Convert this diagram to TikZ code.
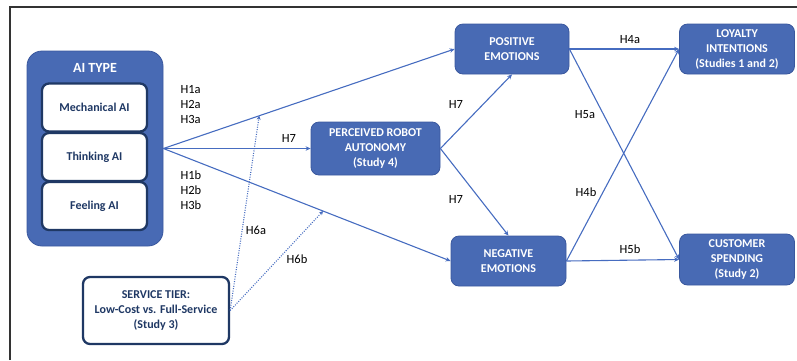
\documentclass[tikz,border=0pt]{standalone}
\usepackage{fontspec}
\setmainfont{Carlito}
\usepackage{xcolor}
\definecolor{azulCaja}{RGB}{72,106,180}
\definecolor{azulBorde}{RGB}{58,88,158}
\definecolor{azulMarino}{RGB}{31,56,100}
\definecolor{azulFlecha}{RGB}{70,108,192}
\usepackage{tikz}
\usetikzlibrary{arrows.meta, positioning}

\begin{document}
\begin{tikzpicture}[x=1pt,y=-1pt,
  caja/.style={draw=azulBorde, fill=azulCaja, rounded corners=8pt, line width=0.8pt,
    text=white, align=center, inner sep=0pt, font=\fontsize{12}{15}\selectfont\bfseries},
  cajaBlanca/.style={draw=azulMarino, fill=white, rounded corners=7pt, line width=2.3pt,
    text=azulMarino, align=center, inner sep=0pt, font=\fontsize{12}{15}\selectfont\bfseries},
  flecha/.style={draw=azulFlecha, line width=1.1pt, -{Stealth[length=5pt,width=4.5pt]}},
  punteada/.style={draw=azulFlecha, line width=1.1pt, dash pattern=on 1pt off 1.4pt,
    -{Stealth[length=4pt,width=4pt]}},
  etiqueta/.style={font=\fontsize{12.5}{15}\selectfont, align=left}]
  \useasboundingbox (0,0) rectangle (797,360);
  % Marco
  \draw[line width=1.2pt, black!80] (10,360) -- (10,7) -- (797,7);
  % Tipo de IA
  \node[caja, rounded corners=15pt, minimum width=136pt, minimum height=195pt] (tipoIA) at (95,148.5) {};
  \node[text=white, font=\fontsize{14}{15}\selectfont\bfseries] (tituloIA) at (95,68) {AI TYPE};
  \node[cajaBlanca, minimum width=105pt, minimum height=48pt] (mecanica) at (94.5,107.5) {Mechanical AI};
  \node[cajaBlanca, minimum width=105pt, minimum height=48pt] (pensante) at (94.5,157) {Thinking AI};
  \node[cajaBlanca, minimum width=105pt, minimum height=48pt] (sensible) at (94.5,206) {Feeling AI};
  % Mediadores y resultados
  \node[caja, minimum width=129pt, minimum height=53pt] (autonomia) at (375.5,148.5)
    {PERCEIVED ROBOT\\AUTONOMY\\(Study 4)};
  \node[caja, minimum width=114pt, minimum height=50pt] (positivas) at (512,49) {POSITIVE\\EMOTIONS};
  \node[caja, minimum width=115pt, minimum height=50pt] (negativas) at (508.5,261) {NEGATIVE\\EMOTIONS};
  \node[caja, minimum width=115pt, minimum height=50pt] (lealtad) at (737,49)
    {LOYALTY\\INTENTIONS\\(Studies 1 and 2)};
  \node[caja, minimum width=115pt, minimum height=51pt] (gasto) at (737,259.5)
    {CUSTOMER\\SPENDING\\(Study 2)};
  % Moderador
  \node[cajaBlanca, minimum width=146pt, minimum height=67pt] (servicio) at (156,310.5)
    {SERVICE TIER:\\Low-Cost vs. Full-Service\\(Study 3)};
  % Flechas
  \draw[flecha] (tipoIA.east) -- (positivas.west) coordinate[pos=0.329] (m6a);
  \draw[flecha] (tipoIA.east) -- (autonomia.west);
  \draw[flecha] (tipoIA.east) -- (negativas.west) coordinate[pos=0.556] (m6b);
  \draw[flecha] (autonomia.east) -- (positivas.south);
  \draw[flecha] (autonomia.east) -- (negativas.north);
  \draw[flecha] (positivas.east) -- (lealtad.west);
  \draw[flecha] (positivas.east) -- (gasto.west);
  \draw[flecha] (negativas.east) -- (lealtad.west);
  \draw[flecha] (negativas.east) -- (gasto.west);
  \draw[punteada] (servicio.east) -- (m6a);
  \draw[punteada] (servicio.east) -- (m6b);
  % Hipotesis
  \node[etiqueta, anchor=west] (h1a) at (177,105) {H1a\\H2a\\H3a};
  \node[etiqueta, anchor=west] (h1b) at (177,190) {H1b\\H2b\\H3b};
  \node[etiqueta] (h7a) at (289,138) {H7};
  \node[etiqueta] (h7b) at (456,104) {H7};
  \node[etiqueta] (h7c) at (456,199) {H7};
  \node[etiqueta] (h4a) at (630,40) {H4a};
  \node[etiqueta] (h5a) at (585,115) {H5a};
  \node[etiqueta] (h4b) at (586,192) {H4b};
  \node[etiqueta] (h5b) at (630,249) {H5b};
  \node[etiqueta] (h6a) at (256,230) {H6a};
  \node[etiqueta] (h6b) at (297,259) {H6b};
\end{tikzpicture}
\end{document}
